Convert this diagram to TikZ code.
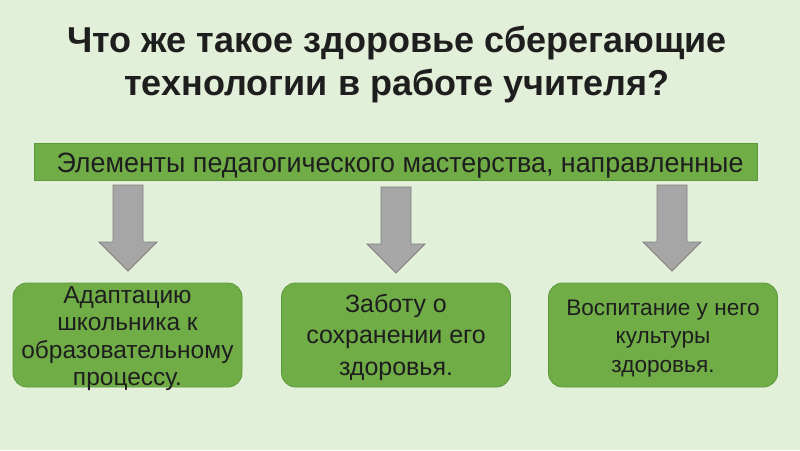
\documentclass[tikz,border=0pt]{standalone}
\usepackage{fontspec}
\setmainfont{Liberation Sans}
\newfontfamily\narrowfont[FakeStretch=0.96]{Liberation Sans}
\newfontfamily\titlefont{Liberation Sans Bold}
\definecolor{bg}{HTML}{E2EFD9}
\definecolor{grn}{HTML}{70AD47}
\definecolor{grnline}{HTML}{5B9A3A}
\definecolor{arrfill}{HTML}{A6A6A6}
\definecolor{arrline}{HTML}{7F7F7F}
\definecolor{txt}{HTML}{1E1E1E}
\tikzset{
  banner/.style={draw=grnline, fill=grn, line width=0.8pt, minimum width=723pt, minimum height=37pt, inner sep=0pt},
  greenbox/.style={draw=grnline, fill=grn, line width=0.8pt, rounded corners=14pt, minimum width=229pt, minimum height=104pt, inner sep=0pt},
  boxtext/.style={text=txt, align=center, anchor=north, inner sep=0pt},
  blockarr/.style={draw=arrline, fill=arrfill, line width=0.8pt},
}
\newcommand{\myblockarrow}[2]{% center x, top y
  \draw[blockarr] (#1-15,#2) -- (#1+15,#2) -- (#1+15,#2+57) -- (#1+29,#2+57)
    -- (#1,#2+86) -- (#1-29,#2+57) -- (#1-15,#2+57) -- cycle;}
\begin{document}
\begin{tikzpicture}[x=1pt,y=-1pt]
\fill[bg] (0,0) rectangle (800,450);
\useasboundingbox (0,0) rectangle (800,450);
% title
\node[boxtext, font=\titlefont\fontsize{36}{43}\selectfont] (title) at (397,22)
  {\rule{0pt}{30pt}Что же такое здоровье сберегающие\\технологии в работе учителя?};
% banner
\node[banner] (bannerbox) at (395.5,161.5) {};
\node[boxtext, font=\narrowfont\fontsize{28}{30}\selectfont] (bannertext) at (400,150)
  {\rule{0pt}{22pt}Элементы педагогического мастерства, направленные\\к:};
% arrows
\myblockarrow{128}{185}
\myblockarrow{396}{187}
\myblockarrow{672}{185}
% boxes
\node[greenbox] (box1) at (127.5,335) {};
\node[greenbox] (box2) at (396,335) {};
\node[greenbox] (box3) at (663,335) {};
\node[boxtext, font=\fontsize{24.5}{27.5}\selectfont] (text1) at (box1.center |- 0,283)
  {\rule{0pt}{20pt}Адаптацию\\школьника к\\образовательному\\процессу.};
\node[boxtext, font=\fontsize{25}{31.5}\selectfont] (text2) at (box2.center |- 0,291)
  {\rule{0pt}{21pt}Заботу о\\сохранении его\\здоровья.};
\node[boxtext, font=\fontsize{22.6}{28.5}\selectfont] (text3) at (box3.center |- 0,296)
  {\rule{0pt}{19pt}Воспитание у него\\культуры\\здоровья.};
\end{tikzpicture}
\end{document}
